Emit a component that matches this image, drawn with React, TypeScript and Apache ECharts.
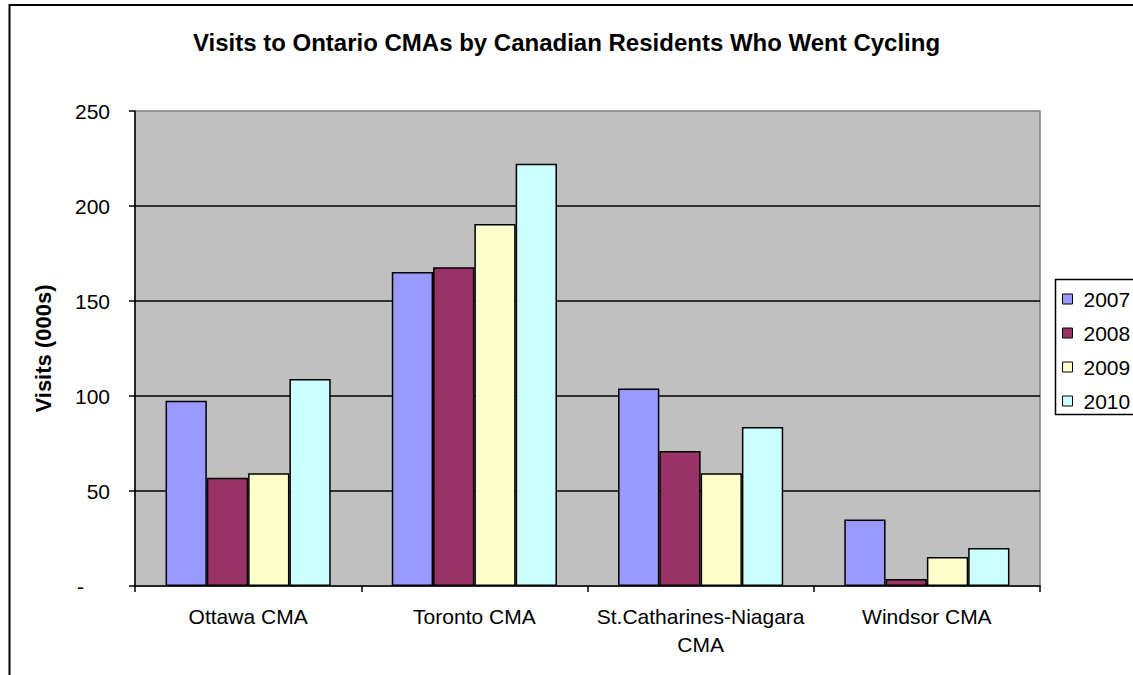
import React, { useEffect, useRef } from "react";
import * as echarts from "echarts";

const categories = ["Ottawa CMA", "Toronto CMA", "St.Catharines-Niagara\nCMA", "Windsor CMA"];
const seriesNames = ["2007", "2008", "2009", "2010"];
const v2007 = [97.5, 165.3, 104, 35];
const v2008 = [57, 167.7, 71, 3.7];
const v2009 = [59.3, 190.5, 59.3, 15.3];
const v2010 = [109, 222.3, 83.7, 20];
const seriesValues = [v2007, v2008, v2009, v2010];
const colors = ["#9999FF", "#993366", "#FFFFCC", "#CCFFFF"];
const yTicks = [0, 50, 100, 150, 200, 250];

const FONT = "Liberation Sans, Arial, sans-serif";

export default function App() {
  const ref = useRef<HTMLDivElement>(null);
  useEffect(() => {
    document.body.style.margin = "0";
    const chart = echarts.init(ref.current!, null, { renderer: "svg" });
    chart.setOption({
      animation: false,
      backgroundColor: "#FFFFFF",
      textStyle: { fontFamily: FONT },
      title: {
        text: "Visits to Ontario CMAs by Canadian Residents Who Went Cycling",
        left: "center",
        top: 30,
        padding: 0,
        textStyle: { fontFamily: FONT, fontSize: 24, fontWeight: "bold", color: "#000" },
      },
      graphic: [
        {
          type: "rect",
          shape: { x: 9.5, y: 5, width: 1300, height: 900 },
          style: { fill: "none", stroke: "#000", lineWidth: 2 },
          silent: true,
        },
        {
          type: "rect",
          shape: { x: 1055.5, y: 279.5, width: 200, height: 135 },
          style: { fill: "none", stroke: "#000", lineWidth: 1.5 },
          silent: true,
        },
      ],
      legend: {
        orient: "vertical",
        left: 1062,
        top: 287,
        padding: 0,
        itemGap: 10,
        itemWidth: 10,
        itemHeight: 10,
        icon: "rect",
        data: seriesNames,
        textStyle: {
          fontFamily: FONT,
          fontSize: 21,
          color: "#000",
          lineHeight: 24,
          padding: [0, 0, 0, 6],
        },
        itemStyle: { borderColor: "#000", borderWidth: 1 },
      },
      grid: {
        left: 135,
        right: 93,
        top: 111,
        bottom: 89,
        show: true,
        backgroundColor: "#C0C0C0",
        borderColor: "#808080",
        borderWidth: 1.5,
      },
      xAxis: {
        type: "category",
        data: categories,
        axisLine: { show: true, lineStyle: { color: "#000", width: 1.5 } },
        axisTick: { show: true, length: 6, lineStyle: { color: "#000", width: 1.5 } },
        axisLabel: {
          fontFamily: FONT,
          fontSize: 21,
          color: "#000",
          lineHeight: 28,
          margin: 16,
          interval: 0,
        },
        splitLine: { show: false },
      },
      yAxis: {
        type: "value",
        min: 0,
        max: 250,
        interval: 50,
        name: "Visits (000s)",
        nameLocation: "middle",
        nameRotate: 90,
        nameGap: 81,
        nameTextStyle: { fontFamily: FONT, fontSize: 22, fontWeight: "bold", color: "#000" },
        axisLine: { show: true, lineStyle: { color: "#000", width: 1.5 } },
        axisTick: { show: true, length: 6, lineStyle: { color: "#000", width: 1.5 } },
        axisLabel: {
          fontFamily: FONT,
          fontSize: 21,
          color: "#000",
          margin: 25,
          formatter: (v: number) => (v === 0 ? "{d|-}" : String(v)),
          rich: { d: { fontFamily: FONT, fontSize: 21, color: "#000", padding: [0, 26, 0, 0] } },
        },
        splitLine: {
          show: true,
          showMinLine: false,
          showMaxLine: false,
          lineStyle: { color: "#000", width: 1.5 },
        },
      },
      series: seriesNames.map((name, i) => ({
        name,
        type: "bar",
        data: seriesValues[i],
        barGap: "0%",
        barCategoryGap: "27%",
        itemStyle: { color: colors[i], borderColor: "#000", borderWidth: 1.5 },
      })),
    });
    return () => chart.dispose();
  }, []);
  return <div ref={ref} style={{ width: 1133, height: 675 }} />;
}
